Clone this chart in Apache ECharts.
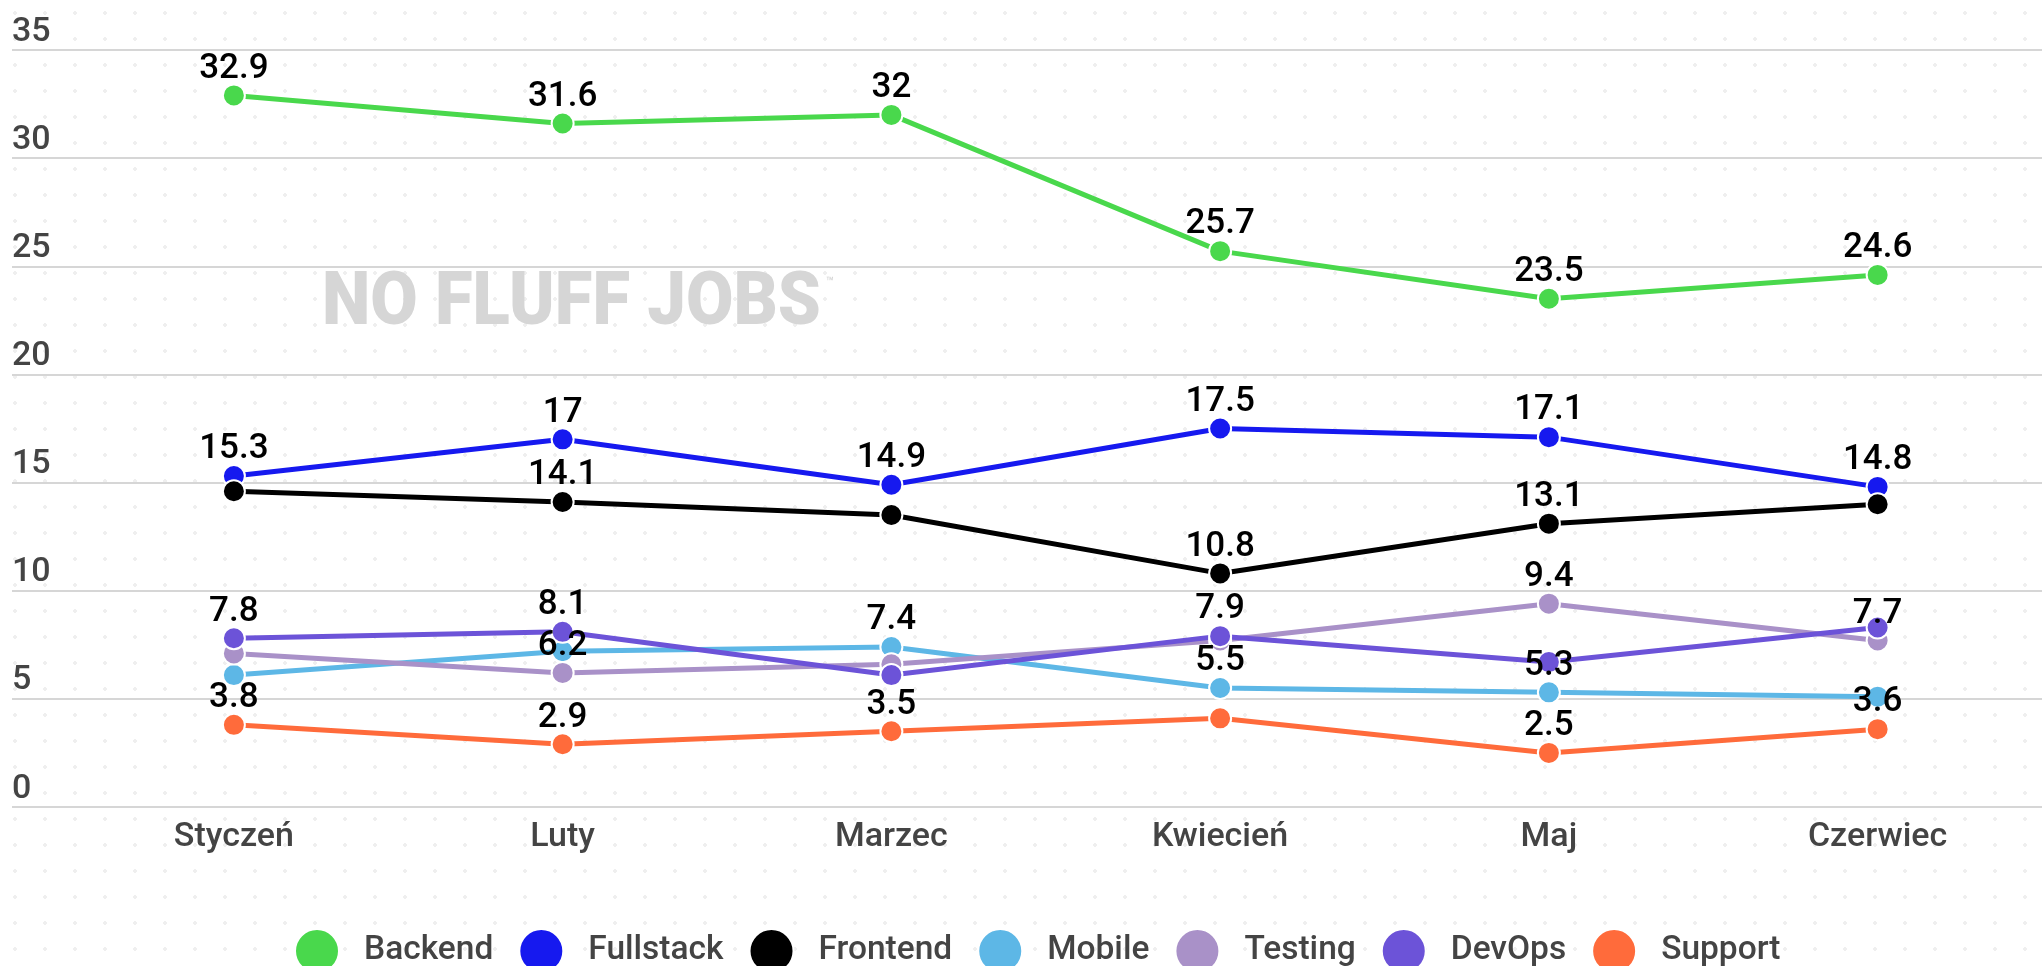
<!DOCTYPE html>
<html>
<head>
<meta charset="utf-8">
<script src="https://cdn.jsdelivr.net/npm/echarts@6/dist/echarts.min.js"></script>
<style>
  html, body { margin: 0; padding: 0; }
  body {
    width: 2042px; height: 966px; overflow: hidden;
    background-color: #fff;
    background-image: radial-gradient(circle, #efefef 1.6px, transparent 2px);
    background-size: 30px 26px;
  }
  #chart { width: 2042px; height: 966px; }
</style>
</head>
<body>
<div id="chart"></div>
<script>
  // miesiące
  const categories = ['Styczeń', 'Luty', 'Marzec', 'Kwiecień', 'Maj', 'Czerwiec'];
  const seriesNames = ['Backend', 'Fullstack', 'Frontend', 'Mobile', 'Testing', 'DevOps', 'Support'];
  const backend = [32.9, 31.6, 32, 25.7, 23.5, 24.6];
  const fullstack = [15.3, 17, 14.9, 17.5, 17.1, 14.8];
  const frontend = [14.6, 14.1, 13.5, 10.8, 13.1, 14.0];
  const mobile = [6.1, 7.2, 7.4, 5.5, 5.3, 5.1];
  const testing = [7.1, 6.2, 6.6, 7.7, 9.4, 7.7];
  const devops = [7.8, 8.1, 6.1, 7.9, 6.7, 8.3];
  const support = [3.8, 2.9, 3.5, 4.1, 2.5, 3.6];
  const yMin = 0, yMax = 35, yStep = 5;
  // etykiety ukryte w oryginale (nakładanie się)
  const hiddenLabels = {
    Frontend: [0, 2, 5],
    Mobile: [0, 1, 5],
    Testing: [0, 2, 3],
    DevOps: [2, 4, 5],
    Support: [3]
  };

  const values = [backend, fullstack, frontend, mobile, testing, devops, support];
  const colors = ['#49d84c', '#1619ef', '#000000', '#5db7e6', '#a991c8', '#6c53d8', '#ff6b3b'];

  const font = 'Roboto, "Noto Sans", sans-serif';

  const myChart = echarts.init(document.getElementById('chart'));

  const series = seriesNames.map(function (name, i) {
    const hidden = hiddenLabels[name] || [];
    return {
      name: name,
      type: 'line',
      xAxisIndex: 1,
      yAxisIndex: 1,
      symbol: 'circle',
      symbolSize: 22,
      color: colors[i],
      lineStyle: { width: 5, color: colors[i] },
      itemStyle: { color: colors[i], borderColor: '#fff', borderWidth: 2 },
      label: {
        show: true,
        position: 'top',
        distance: -3,
        color: '#000',
        fontFamily: font,
        fontSize: 35,
        fontWeight: 500
      },
      emphasis: { disabled: true },
      data: values[i].map(function (v, j) {
        return hidden.indexOf(j) >= 0 ? { value: v, label: { show: false } } : v;
      })
    };
  });

  const option = {
    animation: false,
    textStyle: { fontFamily: font },
    graphic: [{
      type: 'text',
      left: 322,
      top: 268,
      scaleX: 0.93,
      silent: true,
      z: 0,
      style: {
        text: 'NO FLUFF JOBS',
        fontFamily: 'Roboto, sans-serif',
        fontWeight: 900,
        fontSize: 74,
        fill: '#d6d6d6'
      }
    }, {
      type: 'text',
      left: 826,
      top: 276,
      silent: true,
      z: 0,
      style: { text: '™', fontSize: 13, fill: '#cfcfcf', fontFamily: 'Roboto, sans-serif' }
    }],
    legend: {
      data: seriesNames,
      left: 289,
      top: 923,
      icon: 'circle',
      itemWidth: 44,
      itemHeight: 44,
      itemGap: 25,
      textStyle: {
        fontFamily: font,
        fontSize: 33.5,
        fontWeight: 500,
        color: '#444',
        padding: [0, 0, 0, 20]
      }
    },
    grid: [
      { left: 12, right: 0, top: 50, bottom: 159 },
      { left: 69.5, width: 1986, top: 50, bottom: 159 }
    ],
    xAxis: [
      { type: 'category', gridIndex: 0, data: categories, show: false },
      {
        type: 'category',
        gridIndex: 1,
        data: categories,
        boundaryGap: true,
        axisLine: { show: false },
        axisTick: { show: false },
        axisLabel: {
          margin: 13,
          color: '#444',
          fontFamily: font,
          fontSize: 34,
          fontWeight: 500
        }
      }
    ],
    yAxis: [
      {
        type: 'value',
        gridIndex: 0,
        min: yMin,
        max: yMax,
        interval: yStep,
        axisLine: { show: false },
        axisTick: { show: false },
        splitLine: { lineStyle: { color: '#d6d6d6', width: 2 } },
        axisLabel: {
          inside: true,
          margin: 0,
          verticalAlign: 'bottom',
          align: 'left',
          lineHeight: 36,
          color: '#444',
          fontFamily: font,
          fontSize: 34,
          fontWeight: 500
        }
      },
      { type: 'value', gridIndex: 1, min: yMin, max: yMax, interval: yStep, show: false }
    ],
    series: series
  };

  myChart.setOption(option);
</script>
</body>
</html>
